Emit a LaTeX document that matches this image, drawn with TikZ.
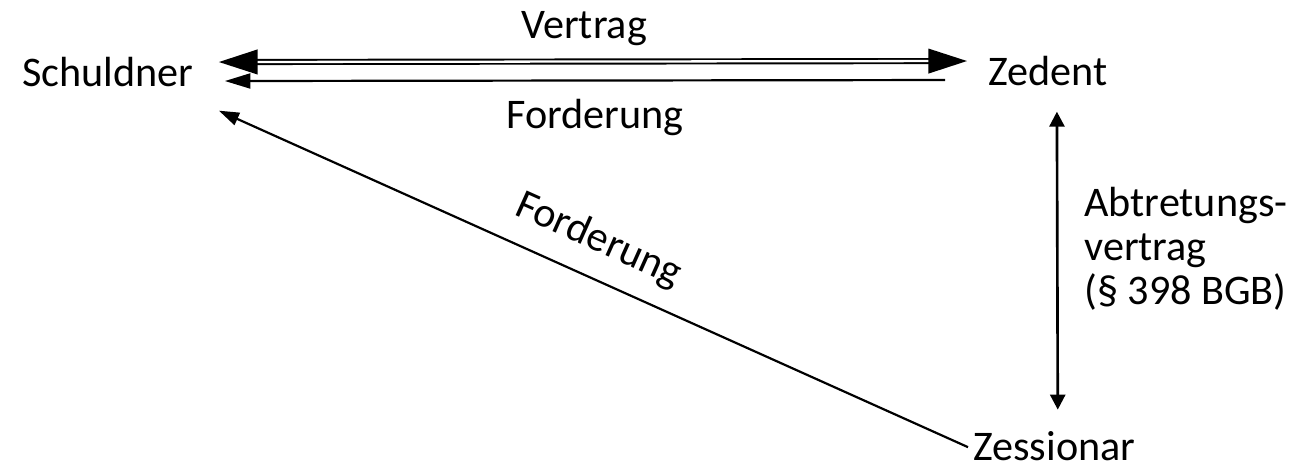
\documentclass[tikz,border=0pt]{standalone}
\usepackage{fontspec}
\setmainfont{Carlito}
\usetikzlibrary{arrows.meta,calc}

\tikzset{
  party/.style={
    anchor=base west,
    inner sep=0pt,
    font=\fontsize{24}{25}\selectfont
  },
  contract/.style={
    double,
    line width=1.1pt,
    double distance=1.3pt,
    {Triangle[length=22pt,width=14pt]}-{Triangle[length=22pt,width=14pt]}
  },
  claim/.style={
    line width=1.25pt,
    -{Triangle[length=14.5pt,width=8.5pt]}
  }
}

\begin{document}
\begin{tikzpicture}[x=0.02cm, y=-0.02cm]
  \useasboundingbox (0,0) rectangle (1297,468);

  \node[party] (schuldner) at (22,86) {Schuldner};
  \node[party] (zedent) at (988,85) {Zedent};
  \node[party] (zessionar) at (973,460) {Zessionar};

  \node[party] (vertrag) at (521,38) {Vertrag};
  \node[party] (forderung) at (506,128) {Forderung};
  \node[party, align=left] (abtretung) at (1084,304)
    {Abtretungs-\\vertrag\\(§ 398 BGB)};
  \node[party, rotate=-24.1] (forderung2) at (513,214) {Forderung};

  \draw[contract] ($(schuldner.east)+(25,-9.5)$) -- ($(zedent.west)+(-21,-9.5)$);
  \draw[claim] ($(zedent.west)+(-43,9.5)$) -- ($(schuldner.east)+(31,9.5)$);

  \draw[line width=1.5pt, {Triangle[length=8.5pt,width=8.5pt]}-{Triangle[length=8.5pt,width=8.5pt]}]
    ($(zedent.south)+(9,26)$) -- ($(zessionar.north)+(3.4,-21)$);

  \draw[claim, -{Triangle[length=11.5pt,width=7.5pt]}]
    ($(zessionar.west)+(-5,1.5)$) -- ($(schuldner.south east)+(25,24)$);
\end{tikzpicture}
\end{document}
